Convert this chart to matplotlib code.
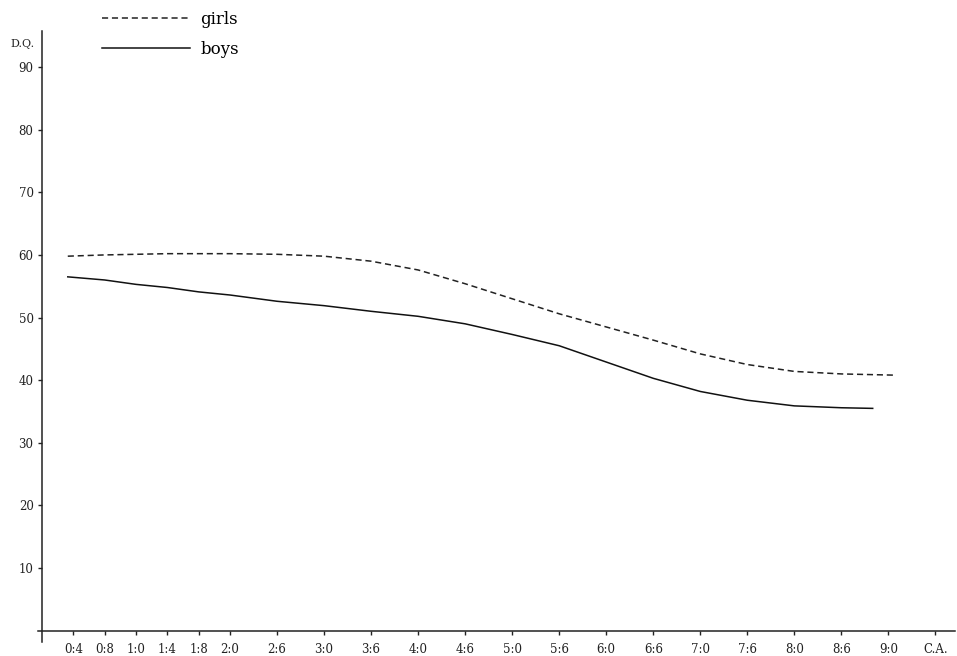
import matplotlib
matplotlib.use("Agg")
import matplotlib.pyplot as plt

# ---- data (age in months, D.Q.) ----
girls_months = [3.3, 8, 12, 16, 20, 24, 30, 36, 42, 48, 54, 60, 66, 72, 78, 84, 90, 96, 102, 109]
girls_dq = [59.8, 60.0, 60.1, 60.2, 60.2, 60.2, 60.1, 59.8, 59.0, 57.6, 55.4, 53.0, 50.6, 48.5, 46.4,
            44.2, 42.5, 41.4, 41.0, 40.8]

boys_months = [3.3, 8, 12, 16, 20, 24, 30, 36, 42, 48, 54, 60, 66, 72, 78, 84, 90, 96, 102, 106]
boys_dq = [56.5, 56.0, 55.3, 54.8, 54.1, 53.6, 52.6, 51.9, 51.0, 50.2, 49.0, 47.3, 45.5, 42.9, 40.3,
           38.2, 36.8, 35.9, 35.6, 35.5]

x_tick_months = [4, 8, 12, 16, 20, 24, 30, 36, 42, 48, 54, 60, 66, 72, 78, 84, 90, 96, 102, 108, 114]
x_tick_labels = ["0:4", "0:8", "1:0", "1:4", "1:8", "2:0", "2:6", "3:0", "3:6", "4:0", "4:6",
                 "5:0", "5:6", "6:0", "6:6", "7:0", "7:6", "8:0", "8:6", "9:0", "C.A."]
y_ticks = [10, 20, 30, 40, 50, 60, 70, 80, 90]

plt.rcParams['font.family'] = ['DejaVu Serif', 'Liberation Serif']

fig = plt.figure(figsize=(9.57, 6.56), dpi=100)
ax = fig.add_axes([38 / 957, 14 / 656, 917 / 957, 611.3 / 656])

lg, = ax.plot(girls_months, girls_dq, color='#222222', lw=1.1, linestyle=(0, (4, 2.5)), label='girls')
lb, = ax.plot(boys_months, boys_dq, color='#111111', lw=1.1, label='boys')

ax.set_xlim(-0.5, 116.5)
ax.set_ylim(-1.8, 95.8)

for s in ['top', 'right']:
    ax.spines[s].set_visible(False)
ax.spines['left'].set_position(('data', 0))
ax.spines['bottom'].set_position(('data', 0))
for s in ['left', 'bottom']:
    ax.spines[s].set_linewidth(1.1)
    ax.spines[s].set_color('#222222')

ax.set_xticks(x_tick_months)
ax.set_xticklabels(x_tick_labels)
ax.set_yticks(y_ticks)
ax.set_yticklabels([str(v) for v in y_ticks])
ax.tick_params(axis='x', direction='out', length=3, width=1, pad=6, labelsize=8.5, colors='#222222')
ax.tick_params(axis='y', direction='out', length=3, width=1, pad=3, labelsize=8.5, colors='#222222')

ax.text(-0.9, 93.6, 'D.Q.', ha='right', va='center', fontsize=8, color='#222222')

leg = ax.legend(handles=[lg, lb], loc='upper left', bbox_to_anchor=(102 / 957, 1 - 11 / 656),
                bbox_transform=fig.transFigure, frameon=False, borderpad=0, borderaxespad=0,
                handlelength=5.3, handletextpad=0.6, labelspacing=0.75, fontsize=12)

fig.savefig('out.png', dpi=100)
